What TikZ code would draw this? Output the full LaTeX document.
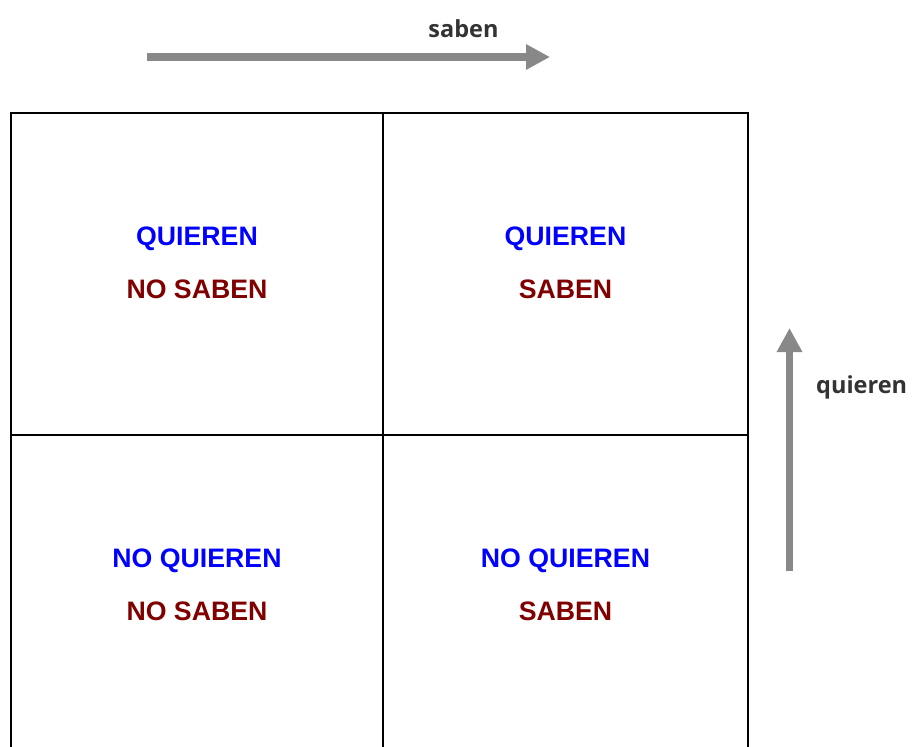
\documentclass[tikz,border=0pt]{standalone}
\usepackage{fontspec}
\setmainfont{Liberation Sans}
\newfontfamily\labelfont{Open Sans}
\usetikzlibrary{arrows.meta}
\definecolor{axisgray}{HTML}{888888}
\definecolor{labelgray}{HTML}{333333}
\definecolor{wantblue}{HTML}{0000FF}
\definecolor{knowred}{HTML}{800000}
\begin{document}
\begin{tikzpicture}[x=1pt,y=-1pt,
  grid/.style={draw=black,line width=2pt},
  axis/.style={draw=axisgray,line width=7.5pt,-{Triangle[length=24pt,width=24pt]}},
  axislabel/.style={font=\labelfont\bfseries\fontsize{23.5}{27}\selectfont,text=labelgray,inner sep=0pt},
  want/.style={font=\bfseries\fontsize{26.7}{30}\selectfont,text=wantblue,anchor=base,inner sep=0pt},
  know/.style={font=\bfseries\fontsize{26.7}{30}\selectfont,text=knowred,anchor=base,inner sep=0pt}]
\useasboundingbox (0,0) rectangle (913,747);

% quadrant grid, open at the bottom
\coordinate (tl) at (11,113);
\coordinate (tm) at (383,113);
\coordinate (tr) at (748,113);
\coordinate (ml) at (11,435);
\coordinate (mr) at (748,435);
\coordinate (bl) at (11,747);
\coordinate (bm) at (383,747);
\coordinate (br) at (748,747);
\draw[grid] (bl) -- (tl) -- (tr) -- (br);
\draw[grid] (tm) -- (bm);
\draw[grid] (ml) -- (mr);

% axes
\coordinate (hs) at (147,57);
\coordinate (he) at (550,57);
\draw[axis] (hs) -- (he);
\node[axislabel,anchor=base] (saben) at (463.5,37) {saben};

\coordinate (vs) at (789.5,571);
\coordinate (ve) at (789.5,328);
\draw[axis] (vs) -- (ve);
\node[axislabel,anchor=base west] (quieren) at (816,393) {quieren};

% quadrant labels
\node[want] (q1) at (197,245) {QUIEREN};
\node[know] (k1) at (197,298) {NO SABEN};
\node[want] (q2) at (565.5,245) {QUIEREN};
\node[know] (k2) at (565.5,298) {SABEN};
\node[want] (q3) at (197,567) {NO QUIEREN};
\node[know] (k3) at (197,620) {NO SABEN};
\node[want] (q4) at (565.5,567) {NO QUIEREN};
\node[know] (k4) at (565.5,620) {SABEN};
\end{tikzpicture}
\end{document}
